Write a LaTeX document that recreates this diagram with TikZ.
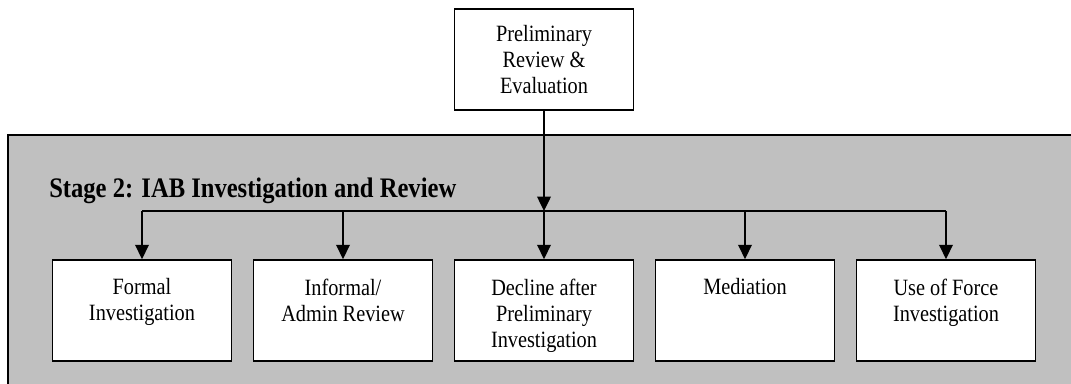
\documentclass[tikz,border=0pt]{standalone}
\usepackage{fontspec}
\setmainfont{Liberation Serif}[FakeStretch=0.87]
\usepackage{tikz}
\usetikzlibrary{arrows.meta, positioning}
\definecolor{stagegray}{RGB}{192, 192, 192}

\tikzset{
  stepbox/.style={draw, fill=white, line width=1.3pt, minimum width=4.475cm, minimum height=2.525cm, inner sep=0pt},
  flowarrow/.style={line width=1.3pt, -{Triangle[length=3.6mm, width=3.4mm]}},
  subbox/.style={stepbox, execute at begin node={\begin{minipage}[t][1.6cm][t]{4.2cm}\centering}, execute at end node={\end{minipage}}}
}

\begin{document}
\begin{tikzpicture}[font=\fontsize{16.6}{18.5}\selectfont]
\useasboundingbox (0,0) rectangle (26.775,9.575);
\fill[stagegray, draw=black, line width=1.3pt] (0.2,-0.5) rectangle (27.5,6.2);
\node[anchor=base west, inner sep=0pt, font=\fontsize{20.1}{24}\selectfont\bfseries] (title) at (1.225,4.65) {Stage 2: IAB Investigation and Review};

\node[stepbox, align=center] (prelim) at (13.6,8.09) {Preliminary\\Review \&\\Evaluation};

\node[subbox] (formal) at (3.55,1.81) {Formal\\Investigation};
\node[subbox] (informal) at (8.575,1.81) {Informal/\\Admin Review};
\node[subbox] (decline) at (13.6,1.81) {Decline after\\Preliminary\\Investigation};
\node[subbox] (mediation) at (18.625,1.81) {Mediation};
\node[subbox] (force) at (23.65,1.81) {Use of Force\\Investigation};

\coordinate (bus) at (13.6,4.3);
\draw[flowarrow] (prelim.south) -- (prelim.south |- bus);
\draw[line width=1.3pt] (formal.north |- bus) -- (force.north |- bus);
\foreach \n in {formal, informal, decline, mediation, force}
  \draw[flowarrow] (\n.north |- bus) -- (\n.north);
\end{tikzpicture}
\end{document}
